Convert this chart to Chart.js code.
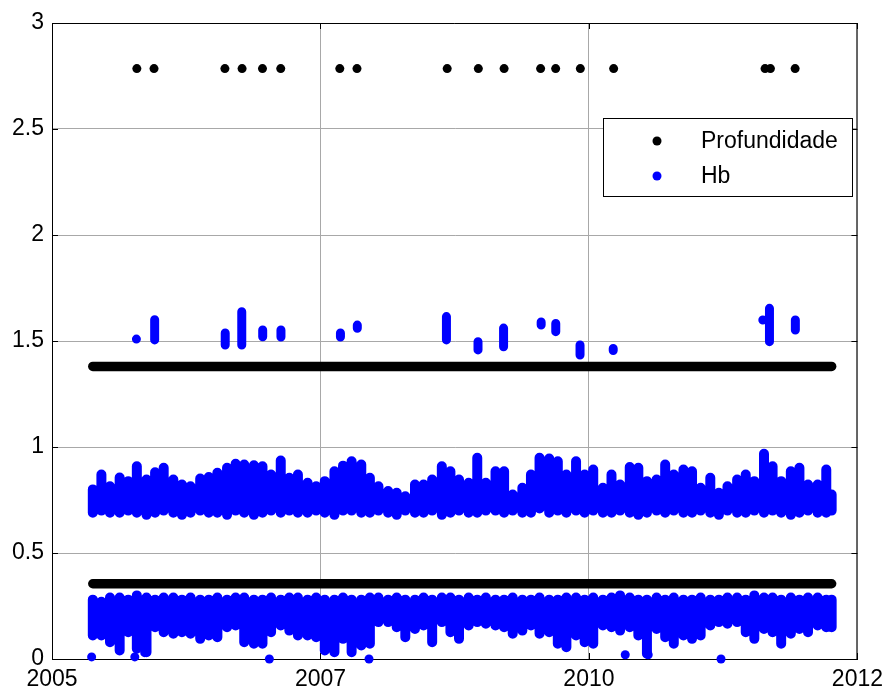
<!DOCTYPE html>
<html>
<head>
<meta charset="utf-8">
<title>Profundidade e Hb</title>
<script src="https://cdn.jsdelivr.net/npm/chart.js@4.4.1/dist/chart.umd.min.js"></script>
<style>
  html, body { margin: 0; padding: 0; background: #fff; }
  canvas { display: block; }
</style>
</head>
<body>
<canvas id="hbChart" width="890" height="691"></canvas>
<script>
// x axis: decimal years, ticks every 2.5 years labelled with the year only
const yearTicks = [2005, 2007.5, 2010, 2012.5];
const yTicks = [0, 0.5, 1, 1.5, 2, 2.5, 3];

// Profundidade: two constant depths over the whole record, plus deep casts
const depthLevels = [1.38, 0.355];
const depthStart = 2005.38;
const depthEnd = 2012.26;
const deepYears = [2005.79, 2005.95, 2006.61, 2006.77, 2006.96, 2007.13, 2007.68, 2007.84, 2008.68,
  2008.97, 2009.21, 2009.55, 2009.69, 2009.92, 2010.23, 2011.64, 2011.69, 2011.92];
const deepDepth = 2.785;

// Hb, monthly min/max of the two dense bands
const monthYears = [2005.38, 2005.46, 2005.54, 2005.63, 2005.71, 2005.79, 2005.88, 2005.96,
  2006.04, 2006.13, 2006.21, 2006.29, 2006.38, 2006.46, 2006.54, 2006.63, 2006.71, 2006.79, 2006.88, 2006.96,
  2007.04, 2007.13, 2007.21, 2007.29, 2007.38, 2007.46, 2007.54, 2007.63, 2007.71, 2007.79, 2007.88, 2007.96,
  2008.04, 2008.13, 2008.21, 2008.29, 2008.38, 2008.46, 2008.54, 2008.63, 2008.71, 2008.79, 2008.88, 2008.96,
  2009.04, 2009.13, 2009.21, 2009.29, 2009.38, 2009.46, 2009.54, 2009.63, 2009.71, 2009.79, 2009.88, 2009.96,
  2010.04, 2010.13, 2010.21, 2010.29, 2010.38, 2010.46, 2010.54, 2010.63, 2010.71, 2010.79, 2010.88, 2010.96,
  2011.04, 2011.13, 2011.21, 2011.29, 2011.38, 2011.46, 2011.54, 2011.63, 2011.71, 2011.79, 2011.88, 2011.96,
  2012.04, 2012.13, 2012.21, 2012.26];
const hbHighTop = [0.800, 0.870, 0.815, 0.856, 0.839, 0.909, 0.847, 0.881,
  0.902, 0.847, 0.823, 0.815, 0.851, 0.858, 0.878, 0.902, 0.921, 0.917, 0.914, 0.909,
  0.870, 0.936, 0.855, 0.870, 0.831, 0.815, 0.839, 0.886, 0.912, 0.933, 0.917, 0.855,
  0.815, 0.792, 0.784, 0.768, 0.823, 0.823, 0.847, 0.909, 0.886, 0.847, 0.831, 0.949,
  0.831, 0.886, 0.886, 0.776, 0.808, 0.870, 0.949, 0.946, 0.933, 0.870, 0.933, 0.870,
  0.894, 0.808, 0.870, 0.823, 0.906, 0.902, 0.839, 0.847, 0.917, 0.870, 0.894, 0.886,
  0.808, 0.855, 0.784, 0.815, 0.847, 0.870, 0.839, 0.968, 0.909, 0.839, 0.886, 0.902,
  0.823, 0.823, 0.894, 0.776];
const hbHighBase = [0.69, 0.70, 0.69, 0.69, 0.70, 0.69, 0.68, 0.69,
  0.70, 0.69, 0.68, 0.69, 0.70, 0.69, 0.69, 0.68, 0.70, 0.69, 0.68, 0.69,
  0.70, 0.69, 0.70, 0.69, 0.69, 0.70, 0.69, 0.68, 0.70, 0.70, 0.69, 0.69,
  0.70, 0.69, 0.68, 0.70, 0.69, 0.69, 0.70, 0.68, 0.69, 0.70, 0.69, 0.69,
  0.70, 0.70, 0.69, 0.70, 0.69, 0.69, 0.71, 0.69, 0.70, 0.69, 0.70, 0.69,
  0.70, 0.69, 0.69, 0.70, 0.69, 0.68, 0.69, 0.70, 0.69, 0.70, 0.69, 0.69,
  0.70, 0.69, 0.68, 0.70, 0.69, 0.69, 0.70, 0.69, 0.70, 0.69, 0.68, 0.69,
  0.70, 0.69, 0.69, 0.70];
const hbLowTop = [0.28, 0.27, 0.29, 0.29, 0.28, 0.30, 0.29, 0.28,
  0.29, 0.29, 0.28, 0.29, 0.28, 0.28, 0.29, 0.28, 0.29, 0.29, 0.28, 0.28,
  0.29, 0.28, 0.29, 0.29, 0.28, 0.29, 0.28, 0.28, 0.29, 0.28, 0.28, 0.29,
  0.29, 0.28, 0.29, 0.28, 0.28, 0.29, 0.28, 0.29, 0.29, 0.28, 0.29, 0.28,
  0.29, 0.28, 0.28, 0.29, 0.28, 0.28, 0.29, 0.28, 0.28, 0.29, 0.29, 0.28,
  0.29, 0.28, 0.29, 0.30, 0.29, 0.28, 0.28, 0.29, 0.28, 0.29, 0.28, 0.28,
  0.29, 0.28, 0.28, 0.29, 0.29, 0.28, 0.30, 0.29, 0.29, 0.28, 0.29, 0.28,
  0.29, 0.29, 0.28, 0.28];
const hbLowBase = [0.111, 0.111, 0.079, 0.040, 0.126, 0.048, 0.032, 0.150,
  0.126, 0.119, 0.126, 0.119, 0.095, 0.111, 0.103, 0.150, 0.158, 0.079, 0.072, 0.072,
  0.126, 0.158, 0.134, 0.111, 0.111, 0.103, 0.040, 0.032, 0.095, 0.032, 0.064, 0.072,
  0.174, 0.174, 0.150, 0.103, 0.142, 0.158, 0.079, 0.174, 0.126, 0.095, 0.158, 0.174,
  0.166, 0.158, 0.150, 0.119, 0.134, 0.158, 0.119, 0.126, 0.072, 0.056, 0.111, 0.079,
  0.072, 0.158, 0.150, 0.134, 0.150, 0.111, 0.025, 0.142, 0.103, 0.072, 0.111, 0.095,
  0.111, 0.158, 0.174, 0.166, 0.174, 0.126, 0.095, 0.142, 0.126, 0.072, 0.119, 0.142,
  0.126, 0.158, 0.150, 0.150];

// Hb during the deep casts (min/max per cast)
const castYears = [2005.786, 2005.956, 2006.613, 2006.767, 2006.962, 2007.132, 2007.686, 2007.843, 2008.673,
  2008.967, 2009.205, 2009.555, 2009.691, 2009.917, 2010.226, 2011.619, 2011.681, 2011.922];
const castHbLow = [1.509, 1.505, 1.481, 1.481, 1.520, 1.519, 1.519, 1.560, 1.505,
  1.458, 1.473, 1.575, 1.544, 1.434, 1.455, 1.599, 1.497, 1.552];
const castHbHigh = [1.509, 1.600, 1.538, 1.638, 1.552, 1.552, 1.538, 1.575, 1.615,
  1.497, 1.561, 1.590, 1.583, 1.481, 1.465, 1.599, 1.654, 1.599];

// isolated Hb readings near zero
const hbZeroYears = [2005.369, 2005.771, 2005.863, 2007.024, 2007.952, 2010.338, 2010.552, 2011.230];
const hbZeroValues = [0.01, 0.01, 0.03, 0.0, 0.0, 0.02, 0.02, 0.0];

const BLUE = '#0000ff';
const BLACK = '#000000';
const FONT = '"Liberation Sans", Arial, sans-serif';
const DOT = 4.5;

// each time step becomes a vertical stroke from its min to its max reading,
// with a null point between steps so the strokes stay separate
function columns(xs, lo, hi) {
  const out = [];
  xs.forEach((x, i) => {
    out.push({ x: x, y: lo[i] }, { x: x, y: hi[i] }, { x: x, y: null });
  });
  return out;
}
function stroke(data, color, width, order) {
  return {
    type: 'scatter', showLine: true, spanGaps: false, data: data,
    borderColor: color, borderWidth: width, borderCapStyle: 'round',
    pointRadius: 0, order: order
  };
}
function dots(data, color, clip) {
  return {
    type: 'scatter', data: data, backgroundColor: color, borderWidth: 0,
    pointRadius: DOT, pointStyle: 'circle', order: color === BLUE ? 0 : 1,
    clip: clip === undefined ? 6 : clip
  };
}

const datasets = [
  stroke(columns(monthYears, hbHighBase, hbHighTop), BLUE, 10, 0),
  stroke(columns(monthYears, hbLowBase, hbLowTop), BLUE, 10, 0),
  stroke(columns(castYears, castHbLow, castHbHigh), BLUE, 9, 0),
  dots(hbZeroYears.map((x, i) => ({ x: x, y: hbZeroValues[i] })), BLUE, false),
  dots(deepYears.map(x => ({ x: x, y: deepDepth })), BLACK)
];
depthLevels.forEach(level => {
  datasets.push(stroke([{ x: depthStart, y: level }, { x: depthEnd, y: level }], BLACK, 9.5, 1));
});

// box outline plus small inward tick marks on all four sides
const axesBox = {
  id: 'axesBox',
  beforeDatasetsDraw(chart) {
    const { ctx, chartArea: a, scales } = chart;
    ctx.save();
    ctx.strokeStyle = BLACK;
    ctx.lineWidth = 1;
    ctx.beginPath();
    ctx.moveTo(a.left, a.top + 0.5); ctx.lineTo(a.right, a.top + 0.5);
    ctx.moveTo(a.right - 0.5, a.top); ctx.lineTo(a.right - 0.5, a.bottom);
    yTicks.forEach(v => {
      const y = Math.round(scales.y.getPixelForValue(v)) + 0.5;
      ctx.moveTo(a.left, y); ctx.lineTo(a.left + 6, y);
      ctx.moveTo(a.right, y); ctx.lineTo(a.right - 6, y);
    });
    yearTicks.forEach(v => {
      const x = Math.round(scales.x.getPixelForValue(v)) + 0.5;
      ctx.moveTo(x, a.bottom); ctx.lineTo(x, a.bottom - 6);
      ctx.moveTo(x, a.top); ctx.lineTo(x, a.top + 6);
    });
    ctx.stroke();
    ctx.restore();
  }
};

// legend box inside the plot, upper right
const legendBox = {
  id: 'legendBox',
  afterDatasetsDraw(chart) {
    const ctx = chart.ctx;
    ctx.save();
    ctx.fillStyle = '#fff';
    ctx.fillRect(603, 118, 249, 79);
    ctx.strokeStyle = BLACK;
    ctx.lineWidth = 1;
    ctx.strokeRect(603.5, 118.5, 249, 78);
    const rows = [['Profundidade', BLACK, 141], ['Hb', BLUE, 176]];
    ctx.font = '23px ' + FONT;
    ctx.textBaseline = 'middle';
    rows.forEach(([text, color, y]) => {
      ctx.fillStyle = color;
      ctx.beginPath();
      ctx.arc(657, y, DOT, 0, Math.PI * 2);
      ctx.fill();
      ctx.fillStyle = BLACK;
      ctx.fillText(text, 701, y + 1);
    });
    ctx.restore();
  }
};

new Chart(document.getElementById('hbChart'), {
  type: 'scatter',
  data: { datasets: datasets },
  options: {
    responsive: false,
    animation: false,
    events: [],
    layout: { padding: { top: 23, right: 30, left: 0, bottom: 0 } },
    plugins: { legend: { display: false }, tooltip: { enabled: false } },
    scales: {
      x: {
        type: 'linear', min: 2005, max: 2012.5,
        afterBuildTicks: s => { s.ticks = yearTicks.map(v => ({ value: v })); },
        afterFit: s => { s.height = 32; },
        grid: { color: '#a8a8a8', lineWidth: 1, drawTicks: false },
        border: { color: BLACK, width: 1 },
        ticks: {
          color: BLACK, padding: 7, maxRotation: 0, autoSkip: false,
          font: { family: FONT, size: 23 },
          callback: v => String(Math.floor(v))
        }
      },
      y: {
        type: 'linear', min: 0, max: 3,
        afterBuildTicks: s => { s.ticks = yTicks.map(v => ({ value: v })); },
        afterFit: s => { s.width = 52; },
        grid: { color: '#a8a8a8', lineWidth: 1, drawTicks: false },
        border: { color: BLACK, width: 1 },
        ticks: {
          color: BLACK, padding: 8,
          font: { family: FONT, size: 23 },
          callback: v => String(v)
        }
      }
    }
  },
  plugins: [axesBox, legendBox]
});
</script>
</body>
</html>
